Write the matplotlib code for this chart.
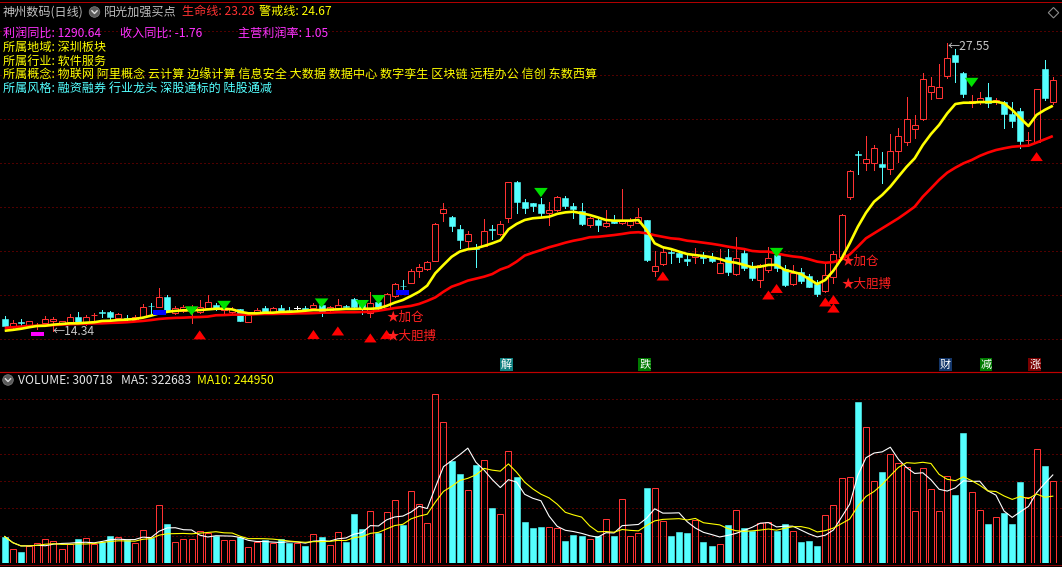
import numpy as np
import pandas as pd
import matplotlib
matplotlib.use("Agg")
import matplotlib.pyplot as plt
from matplotlib.patches import Rectangle, Circle, Polygon
from matplotlib.lines import Line2D
from matplotlib.path import Path
from matplotlib.transforms import IdentityTransform, blended_transform_factory

plt.rcParams['font.family'] = ['Noto Sans CJK SC', 'DejaVu Sans']

# ---------------- data ----------------
opens = [14.89, 14.51, 14.74, 14.61, 14.57, 14.69, 14.78, 14.72, 14.77, 14.99,
         14.69, 15.06, 15.21, 15.20, 14.92, 14.95, 14.84, 14.99, 15.50, 15.45,
         15.91, 15.16, 15.26, 15.30, 15.22, 15.41, 15.53, 15.30, 15.21, 15.33,
         14.77, 15.21, 15.41, 15.20, 15.41, 15.32, 15.38, 15.41, 15.38, 15.53,
         15.30, 15.38, 15.50, 15.81, 15.61, 15.15, 15.66, 15.38, 15.94, 16.42,
         16.55, 17.08, 17.17, 17.56, 19.74, 19.57, 19.02, 18.48, 18.16, 18.24,
         19.03, 18.77, 19.51, 21.16, 20.26, 20.19, 20.17, 19.77, 19.89, 20.42,
         20.07, 19.86, 19.20, 19.43, 19.16, 19.43, 19.28, 19.20, 19.31, 19.43,
         17.11, 17.39, 17.97, 17.90, 17.62, 17.72, 17.79, 17.72, 17.01, 17.72,
         16.94, 17.93, 17.31, 16.66, 17.12, 17.83, 17.18, 16.48, 17.06, 16.86,
         16.50, 16.16, 16.80, 17.75, 20.47, 22.48, 22.03, 22.03, 22.00, 21.76,
         22.61, 23.02, 23.62, 24.05, 25.32, 25.04, 26.05, 27.00, 26.19, 24.81,
         24.86, 25.09, 24.84, 24.83, 24.29, 24.43, 23.08, 23.02, 26.34, 24.86]
highs = [15.03, 14.84, 14.88, 14.82, 14.69, 15.03, 14.96, 14.82, 15.12, 15.21,
         15.07, 15.15, 15.30, 15.26, 15.15, 15.07, 15.05, 15.58, 15.61, 16.30,
         15.99, 15.49, 15.53, 15.53, 15.76, 15.98, 15.62, 15.62, 15.44, 15.37,
         15.16, 15.39, 15.49, 15.46, 15.53, 15.45, 15.50, 15.49, 15.62, 15.67,
         15.49, 15.79, 15.55, 15.83, 15.76, 16.11, 15.76, 16.08, 16.55, 16.68,
         17.20, 17.41, 17.56, 19.27, 20.20, 19.61, 19.20, 18.94, 18.33, 19.46,
         19.20, 19.39, 21.17, 21.20, 20.38, 20.20, 20.43, 20.27, 20.54, 20.53,
         20.20, 20.20, 19.58, 19.58, 19.89, 19.66, 20.85, 19.51, 19.98, 19.45,
         18.01, 18.13, 18.05, 17.96, 17.90, 18.13, 17.98, 17.93, 18.09, 18.10,
         18.66, 18.05, 17.52, 17.41, 18.21, 18.15, 17.37, 17.37, 17.22, 16.95,
         16.68, 17.44, 18.02, 19.71, 21.72, 22.61, 23.28, 22.87, 22.56, 23.37,
         23.64, 25.06, 24.25, 26.16, 26.00, 26.57, 27.55, 27.26, 26.23, 25.16,
         25.32, 25.70, 25.01, 24.89, 24.86, 24.55, 23.48, 25.43, 26.77, 26.00]
lows = [14.55, 14.45, 14.57, 14.51, 14.42, 14.68, 14.34, 14.71, 14.69, 14.71,
        14.61, 14.81, 14.97, 14.88, 14.84, 14.77, 14.80, 14.98, 15.07, 15.44,
        15.26, 15.12, 15.21, 14.72, 15.16, 15.39, 15.30, 15.16, 15.16, 14.80,
        14.75, 15.18, 15.19, 15.16, 15.21, 15.15, 15.22, 15.26, 15.35, 15.04,
        15.21, 15.35, 15.35, 15.42, 15.10, 14.99, 15.35, 15.35, 15.92, 16.22,
        16.54, 16.83, 17.14, 17.55, 19.40, 18.94, 18.13, 18.18, 17.29, 18.22,
        18.56, 18.74, 19.35, 19.74, 19.74, 19.86, 19.61, 19.20, 19.84, 19.97,
        19.51, 19.22, 19.10, 18.94, 19.10, 19.27, 19.25, 19.10, 19.29, 17.57,
        16.86, 17.37, 17.44, 17.52, 17.37, 17.44, 17.47, 17.49, 17.00, 16.91,
        16.92, 17.14, 16.68, 16.34, 17.06, 17.09, 16.40, 16.45, 16.53, 16.36,
        15.96, 16.13, 16.53, 17.73, 20.39, 21.54, 21.72, 21.72, 21.14, 21.54,
        22.11, 22.87, 23.18, 24.04, 24.97, 25.01, 25.96, 25.77, 25.09, 24.60,
        24.75, 24.60, 24.75, 23.64, 23.71, 22.72, 22.87, 23.01, 24.94, 24.75]
closes = [14.57, 14.69, 14.71, 14.80, 14.60, 14.89, 14.87, 14.81, 14.99, 14.72,
          14.97, 15.09, 15.18, 14.97, 15.11, 14.91, 14.99, 15.43, 15.47, 15.89,
          15.27, 15.38, 15.42, 15.42, 15.44, 15.66, 15.33, 15.36, 15.35, 14.81,
          15.09, 15.30, 15.22, 15.38, 15.22, 15.29, 15.38, 15.30, 15.53, 15.22,
          15.44, 15.53, 15.43, 15.45, 15.38, 15.61, 15.41, 16.02, 16.49, 16.39,
          17.08, 17.26, 17.49, 19.23, 19.92, 19.17, 18.53, 18.79, 18.11, 18.93,
          18.98, 19.25, 21.16, 20.26, 19.99, 20.07, 19.74, 19.89, 20.47, 20.07,
          19.92, 19.25, 19.51, 19.20, 19.31, 19.28, 19.43, 19.40, 19.55, 17.60,
          17.31, 17.96, 17.93, 17.75, 17.57, 17.83, 17.67, 17.56, 17.45, 17.06,
          17.67, 17.21, 16.78, 17.35, 17.71, 17.21, 16.45, 17.01, 16.65, 16.37,
          16.04, 16.91, 17.87, 19.66, 21.68, 22.43, 22.23, 22.72, 21.87, 22.61,
          23.30, 24.05, 23.77, 25.88, 25.59, 25.52, 26.85, 26.66, 25.20, 24.90,
          25.01, 24.78, 24.94, 24.29, 23.99, 23.07, 23.12, 25.43, 25.04, 25.85]
volumes = [97100, 52000, 38900, 62900, 73800, 88400, 81100, 52000, 68000, 86200,
           93400, 70200, 77400, 100700, 95600, 83600, 71600, 122500, 90900, 213400,
           144300, 75300, 86200, 86200, 118900, 110200, 98200, 82500, 82500, 94500,
           57100, 77400, 82500, 71600, 86200, 72700, 71600, 61800, 108000, 94500,
           64400, 115300, 76400, 178200, 123600, 191600, 109100, 188000, 231600, 139300,
           264300, 216000, 146900, 619600, 517800, 373400, 326200, 268000, 358900, 376000,
           200000, 179600, 412300, 315200, 151600, 127300, 133400, 132400, 127300, 78900,
           104400, 100700, 88700, 99600, 161400, 100700, 234200, 99600, 110500, 275300,
           274200, 154200, 100700, 115300, 111600, 158900, 75300, 60700, 70500, 140700,
           195300, 129800, 118900, 145400, 150500, 116400, 144300, 117800, 75300, 78900,
           60700, 177100, 213400, 311600, 314200, 589000, 499600, 300700, 333400, 398900,
           366100, 350500, 191600, 346900, 270500, 191600, 317800, 249800, 476300, 259600,
           195300, 142400, 169800, 184300, 144300, 297100, 241400, 419000, 355200, 300718]
# 警戒线 (yellow) and 生命线 (red)
warn_line = [14.35, 14.39, 14.44, 14.51, 14.57, 14.58, 14.63, 14.66, 14.69, 14.69,
             14.72, 14.74, 14.80, 14.81, 14.84, 14.86, 14.89, 14.95, 15.04, 15.15,
             15.22, 15.26, 15.29, 15.29, 15.30, 15.33, 15.36, 15.36, 15.33, 15.22,
             15.15, 15.15, 15.18, 15.18, 15.21, 15.22, 15.24, 15.27, 15.30, 15.30,
             15.32, 15.33, 15.35, 15.35, 15.36, 15.36, 15.38, 15.49, 15.64, 15.76,
             15.94, 16.14, 16.42, 16.99, 17.37, 17.74, 17.98, 18.09, 18.13, 18.24,
             18.36, 18.50, 19.00, 19.25, 19.43, 19.51, 19.54, 19.58, 19.71, 19.78,
             19.81, 19.74, 19.66, 19.55, 19.43, 19.40, 19.40, 19.40, 19.43, 18.97,
             18.36, 18.18, 18.10, 17.98, 17.87, 17.82, 17.78, 17.72, 17.64, 17.52,
             17.47, 17.37, 17.26, 17.29, 17.37, 17.37, 17.14, 17.05, 16.95, 16.72,
             16.49, 16.68, 17.11, 17.66, 18.36, 19.12, 19.76, 20.27, 20.58, 20.96,
             21.42, 21.87, 22.26, 22.87, 23.37, 23.79, 24.32, 24.75, 24.81, 24.81,
             24.84, 24.84, 24.86, 24.78, 24.48, 24.10, 23.74, 24.25, 24.48, 24.67]
life_line = [14.48, 14.51, 14.54, 14.57, 14.58, 14.60, 14.61, 14.63, 14.65, 14.66,
             14.67, 14.69, 14.69, 14.71, 14.72, 14.74, 14.77, 14.80, 14.84, 14.89,
             14.92, 14.94, 14.95, 14.97, 14.98, 15.00, 15.06, 15.07, 15.09, 15.09,
             15.09, 15.11, 15.12, 15.12, 15.13, 15.13, 15.15, 15.15, 15.16, 15.18,
             15.18, 15.20, 15.20, 15.20, 15.21, 15.22, 15.27, 15.33, 15.39, 15.44,
             15.49, 15.58, 15.72, 15.88, 16.14, 16.37, 16.50, 16.65, 16.74, 16.83,
             16.95, 17.16, 17.29, 17.52, 17.80, 17.93, 18.05, 18.18, 18.28, 18.39,
             18.48, 18.55, 18.64, 18.66, 18.70, 18.74, 18.79, 18.85, 18.87, 18.82,
             18.73, 18.66, 18.59, 18.56, 18.48, 18.44, 18.39, 18.34, 18.28, 18.21,
             18.15, 18.10, 18.01, 17.98, 17.98, 17.90, 17.82, 17.76, 17.72, 17.63,
             17.52, 17.47, 17.50, 17.62, 17.85, 18.21, 18.59, 18.82, 19.05, 19.28,
             19.51, 19.77, 20.04, 20.50, 20.88, 21.27, 21.60, 21.83, 22.03, 22.18,
             22.37, 22.52, 22.64, 22.72, 22.79, 22.82, 22.84, 22.98, 23.13, 23.28]

# signals
sell_idx = [23, 27, 39, 44, 46, 66, 95, 119]
sell_lvl = [15.26, 15.51, 15.62, 15.55, 15.78, 20.69, 17.94, 25.74]
buy_idx = [24, 38, 41, 45, 47, 81, 94, 95, 101, 102, 102, 127]
buy_lvl = [14.16, 14.18, 14.34, 14.02, 14.18, 16.86, 15.99, 16.29, 15.67, 15.78, 15.39, 22.34]
blue_idx = [19, 49]
blue_top = [15.30, 16.22]
blue_bot = [15.07, 15.98]
mag_idx = [4]
mag_top = [14.29]
mag_bot = [14.12]
star_idx = [47, 47, 103, 103]
star_lvl = [14.99, 14.11, 17.53, 16.46]
star_txt = ['★加仓', '★大胆搏', '★加仓', '★大胆搏']
info_idx = [61, 78, 115, 120, 126]
info_chr = ['解', '跌', '财', '减', '涨']
info_col = ['#0e7f7f', '#007a00', '#13366a', '#007a00', '#7a0000']

# ---------------- layout ----------------
W, H = 1062, 567
RED = '#ff3232'
CYAN = '#54ffff'
GRID = '#a00000'
PX = 0.72  # one pixel in points

fig = plt.figure(figsize=(W / 100, H / 100), dpi=100, facecolor='black')


def fy(py):
    return 1 - py / H


ax = fig.add_axes([0, fy(372), 1, (372 - 2) / H])
axv = fig.add_axes([0, fy(563), 1, (563 - 372) / H])
n = len(closes)
xs = np.arange(n)
xlim = (-4.7 / 8.125, (W - 4.7) / 8.125)
for a in (ax, axv):
    a.set_xlim(*xlim)
    a.set_axis_off()
ax.set_ylim(12.458, 29.430)
axv.set_ylim(0, 700000)

# dotted grid
for ypx in [31, 75, 119, 163, 207, 251, 295, 339]:
    f = (372 - ypx) / 370
    ax.plot([0, 1], [f, f], transform=ax.transAxes, color=GRID, lw=PX,
            ls=(0, (1, 3)), zorder=0)
for k in range(1, 7):
    axv.axhline(k * 100000, color=GRID, lw=PX, ls=(0, (1, 3)), zorder=0)

bw = 0.74
# candles
for i in range(n):
    o, h, l, c = opens[i], highs[i], lows[i], closes[i]
    if c > o:
        ax.add_patch(Rectangle((i - bw / 2, o), bw, c - o, fill=False, ec=RED, lw=PX, zorder=2))
        if h > c:
            ax.plot([i, i], [c, h], color=RED, lw=PX, zorder=2)
        if l < o:
            ax.plot([i, i], [l, o], color=RED, lw=PX, zorder=2)
    elif c < o:
        ax.plot([i, i], [l, h], color=CYAN, lw=PX, zorder=2)
        ax.add_patch(Rectangle((i - bw / 2, c), bw, o - c, fc=CYAN, ec=CYAN, lw=0.4, zorder=2))
    else:
        ax.plot([i, i], [l, h], color='white', lw=PX, zorder=2)
        ax.plot([i - bw / 2, i + bw / 2], [o, o], color='white', lw=PX, zorder=2)

# indicator lines
ax.plot(xs, life_line, color='#ff0000', lw=1.9, zorder=3, solid_capstyle='butt')
ax.plot(xs, warn_line, color='#ffff00', lw=1.9, zorder=3, solid_capstyle='butt')

# blue / magenta marks
for i, t, b in zip(blue_idx, blue_top, blue_bot):
    ax.add_patch(Rectangle((i - 0.8, b), 1.6, t - b, fc='#0000ff', ec='none', zorder=4))
for i, t, b in zip(mag_idx, mag_top, mag_bot):
    ax.add_patch(Rectangle((i - 0.8, b), 1.6, t - b, fc='#ff00ff', ec='none', zorder=4))

# triangles
down_tri = Path([(-1, 0.68), (1, 0.68), (0, -0.68), (-1, 0.68)],
                [Path.MOVETO, Path.LINETO, Path.LINETO, Path.CLOSEPOLY])
up_tri = Path([(-1, -0.72), (1, -0.72), (0, 0.72), (-1, -0.72)],
              [Path.MOVETO, Path.LINETO, Path.LINETO, Path.CLOSEPOLY])
ax.scatter(sell_idx, sell_lvl, marker=down_tri, s=9.8 ** 2, c='#00e000', edgecolors='none', zorder=5)
ax.scatter(buy_idx, buy_lvl, marker=up_tri, s=9.0 ** 2, c='#ff0000', edgecolors='none', zorder=5)

# star labels
for i, lv, t in zip(star_idx, star_lvl, star_txt):
    ax.text(i - 0.05, lv, t, color='#ff2020', fontsize=9, va='center', ha='left', zorder=6)

# high / low labels
hi_i = int(np.argmax(highs))
lo_i = int(np.argmin(lows))
ax.annotate('←%.2f' % highs[hi_i], (hi_i, highs[hi_i]), xytext=(0, -4),
            textcoords='offset pixels', color='#c8c8c8', fontsize=8.7, va='center', ha='left', zorder=6)
ax.annotate('←%.2f' % lows[lo_i], (lo_i, lows[lo_i]), xytext=(-1, -1),
            textcoords='offset pixels', color='#c8c8c8', fontsize=8.7, va='center', ha='left', zorder=6)

# info mine squares at bottom of price panel
bt = blended_transform_factory(ax.transData, ax.transAxes)
for i, ch, col in zip(info_idx, info_chr, info_col):
    ax.add_patch(Rectangle((i, (372 - 371) / 370), 1.55, 13 / 370, transform=bt,
                           fc=col, ec='none', zorder=6))
    ax.text(i + 0.775, (372 - 364.5) / 370, ch, transform=bt, color='white', fontsize=8,
            ha='center', va='center', zorder=7)

# volume bars
for i in range(n):
    v = volumes[i]
    if closes[i] >= opens[i]:
        axv.add_patch(Rectangle((i - bw / 2, 0), bw, v, fill=False, ec=RED, lw=PX, zorder=2))
    else:
        axv.add_patch(Rectangle((i - bw / 2, 0), bw, v, fc=CYAN, ec=CYAN, lw=0.4, zorder=2))
vol = pd.Series(volumes, dtype=float)
ma5 = vol.rolling(5, min_periods=1).mean()
ma10 = vol.rolling(10, min_periods=1).mean()
axv.plot(xs, ma5, color='white', lw=0.8, zorder=3)
axv.plot(xs, ma10, color='#ffff00', lw=0.8, zorder=3)

# panel borders
idt = IdentityTransform()
fig.add_artist(Line2D([0, W], [H - 372, H - 372], color='#c00000', lw=PX * 1.2, transform=idt))
fig.add_artist(Line2D([0, W], [H - 564.5, H - 564.5], color='#800000', lw=PX, transform=idt))
fig.add_artist(Line2D([0, W], [H - 1.5, H - 1.5], color='#b00000', lw=PX, transform=idt))


def ptext(x, y, s, color, size=8.7):
    fig.text(x, H - y, s, color=color, fontsize=size, ha='left', va='center', transform=idt)


def icon(cx, cy):
    fig.add_artist(Circle((cx, H - cy), 5.3, transform=idt, fc='#5a5a5a', ec='#808080', lw=0.5))
    fig.add_artist(Line2D([cx - 2.6, cx, cx + 2.6], [H - cy + 1.2, H - cy - 1.5, H - cy + 1.2],
                          color='#e0e0e0', lw=1.0, transform=idt))


# header texts
ptext(3, 12, '神州数码(日线)', '#c0c0c0')
icon(94.5, 12)
ptext(104, 12, '阳光加强买点', '#c0c0c0')
ptext(182, 12, '生命线: %.2f' % life_line[-1], '#ff3232')
ptext(259, 12, '警戒线: %.2f' % warn_line[-1], '#ffff00')
ptext(3, 33, '利润同比: 1290.64', '#ff33ff')
ptext(120, 33, '收入同比: -1.76', '#ff33ff')
ptext(238, 33, '主营利润率: 1.05', '#ff33ff')
ptext(3, 47, '所属地域: 深圳板块', '#ffff00')
ptext(3, 61, '所属行业: 软件服务', '#ffff00')
ptext(3, 75, '所属概念: 物联网 阿里概念 云计算 边缘计算 信息安全 大数据 数据中心 数字孪生 区块链 远程办公 信创 东数西算', '#ffff00')
ptext(3, 88, '所属风格: 融资融券 行业龙头 深股通标的 陆股通减', '#54ffff')

# diamond at top right
fig.add_artist(Polygon([(1053.5, H - 7.5), (1058.7, H - 12.7), (1053.5, H - 17.9), (1048.3, H - 12.7)],
                       closed=True, fill=False, ec='#8a8a8a', lw=0.8, transform=idt))

# volume header
icon(8, 380)
ptext(18, 380, 'VOLUME: %d' % volumes[-1], '#e6e6e6')
ptext(121, 380, 'MA5: 322683', '#e6e6e6')
ptext(197, 380, 'MA10: 244950', '#ffff00')

fig.savefig('out.png', dpi=100, facecolor='black')
